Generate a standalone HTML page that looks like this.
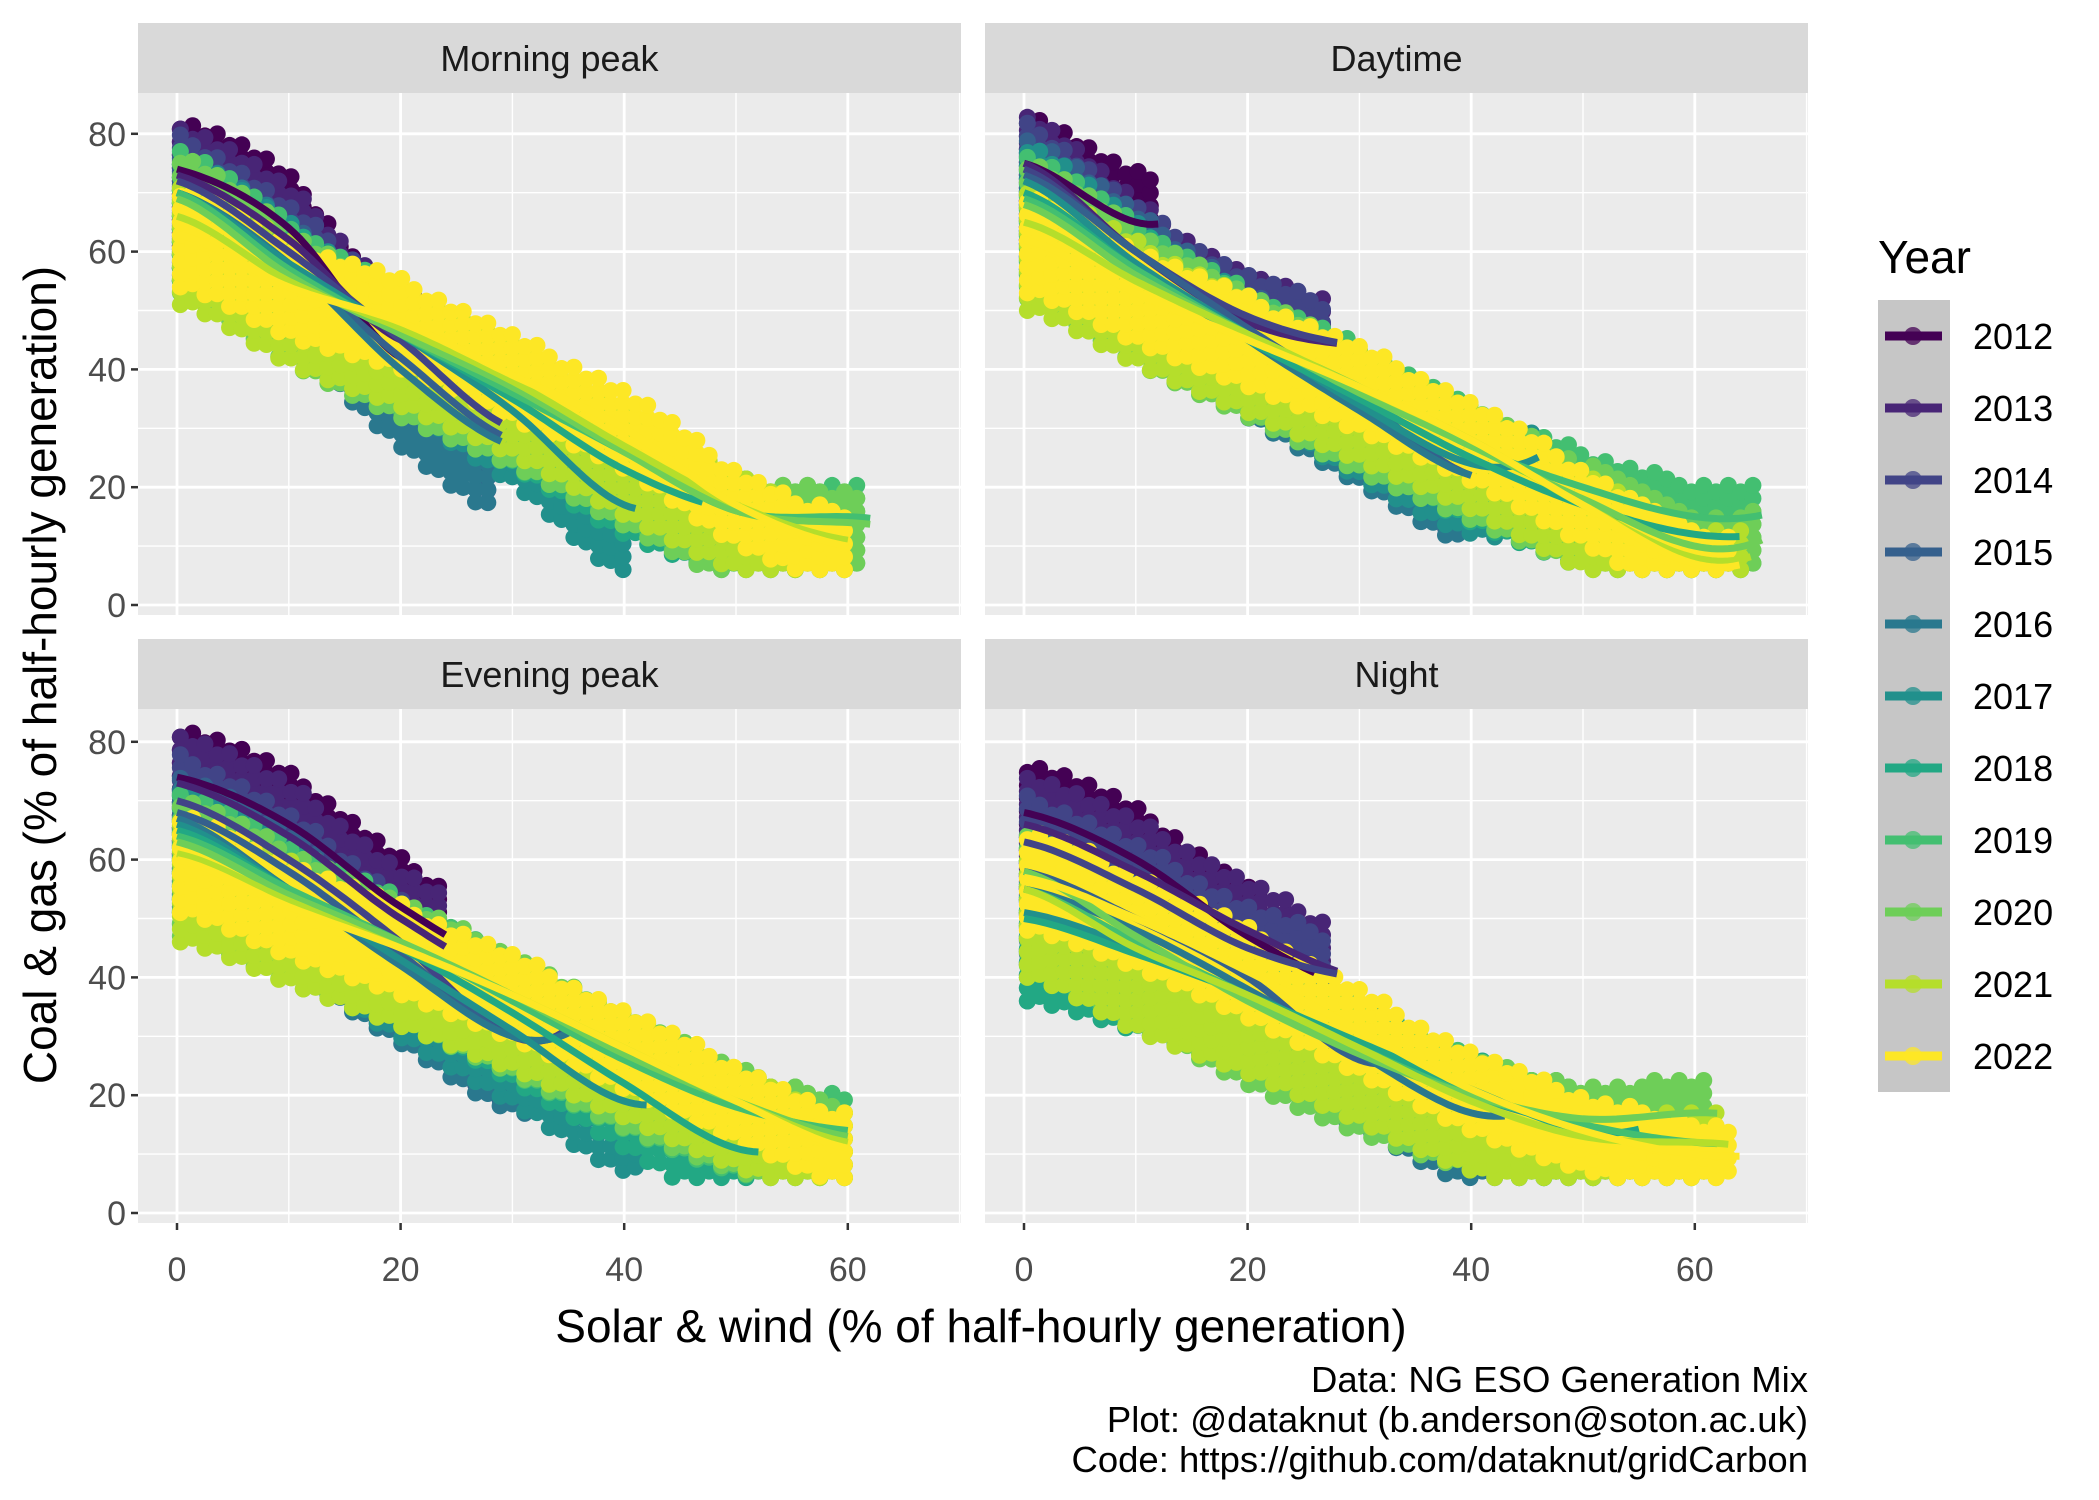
<!DOCTYPE html>
<html><head><meta charset="utf-8">
<style>
html,body{margin:0;padding:0;background:#fff;}
svg{display:block;font-family:"Liberation Sans",Arial,sans-serif;}
</style></head>
<body>
<svg id="chart" width="2099" height="1500" viewBox="0 0 2099 1500" xmlns="http://www.w3.org/2000/svg">
<g id="layer"></g>
</svg>
<script>
// ---- data ----
const years = [2012,2013,2014,2015,2016,2017,2018,2019,2020,2021,2022];
const colors = ["#440154","#482576","#414487","#35608D","#2A788E","#21908C","#22A884","#43BF71","#6ECE58","#B5DE2B","#FDE725"];
const panelNames = ["Morning peak","Daytime","Evening peak","Night"];
const xTicks = [0,20,40,60];
const yTicks = [0,20,40,60,80];
const sampleX = [0,10,20,30,40,50,60,70];
// end x of each year's series, per panel
const endMorning = [20,22,29,29,29,41,47,62,62,60,60];
const endDaytime = [12,28,28,40,40,46,64,66,66,65,64];
const endEvening = [24,24,35,35,35,42,52,60,60,60,60];
const endNight   = [26,28,28,33,43,48,55,62,62,63,64];
// smoothed line values at sampleX
const lineMorning = [
 [74,64,42],[73,62,45],[72,60,45,30],[70,58,42,28],[70,58,40,27],
 [70,58,46,33,17],[69,57,46,35,23,16],[70,57,46,36,26,16,15],[69,56,46,37,26,16,14],
 [66,55,47,38,27,17,11],[63,54,48,39,30,17,10]];
const lineDaytime = [
 [75,65],[75,60,48,44],[74,60,49,44],[73,60,47,35,22],[72,58,45,33,22],
 [72,58,46,34,24],[70,57,45,35,25,17,12],[69,57,46,37,27,20,15],[68,56,46,36,27,18,10],
 [65,55,46,37,28,17,8],[62,53,45,37,28,17,7]];
const lineEvening = [
 [74,66,52,42],[73,64,50,40],[70,60,46,30],[68,58,44,30],[67,55,42,30],
 [66,55,43,31,19],[65,55,45,34,22,11],[64,55,46,36,26,18,14],[63,54,46,37,27,19,13],
 [61,53,45,37,28,19,12],[60,52,45,37,28,19,11]];
const lineNight = [
 [68,60,47,38],[66,58,48,40],[63,55,45,40],[58,50,40,26],[55,48,38,27,17],
 [51,45,37,28,20,15],[50,44,37,29,21,14],[55,46,37,28,20,15,12],[58,47,36,27,20,16,17],
 [55,45,37,28,19,13,12],[57,50,41,31,21,14,10]];
// cloud spread above / below the line
const spreadUp = [9,9,8,7,7,7,7,8,8,7,8];
const spreadDn = [13,12,12,14,15,15,14,15,16,15,9];
const captionLines = ["Data: NG ESO Generation Mix","Plot: @dataknut (b.anderson@soton.ac.uk)","Code: https://github.com/dataknut/gridCarbon"];

// ---- layout ----
const NS="http://www.w3.org/2000/svg";
const layer=document.getElementById('layer');
function mk(tag,attrs,parent){const e=document.createElementNS(NS,tag);for(const k in attrs)e.setAttribute(k,attrs[k]);(parent||layer).appendChild(e);return e;}
const panels=[
 {name:panelNames[0],left:138,right:961,top:93,bottom:615,stripTop:23,y0:605,ends:endMorning,lines:lineMorning,xAxis:false,yAxis:true},
 {name:panelNames[1],left:985,right:1808,top:93,bottom:615,stripTop:23,y0:605,ends:endDaytime,lines:lineDaytime,xAxis:false,yAxis:false},
 {name:panelNames[2],left:138,right:961,top:709,bottom:1223,stripTop:639,y0:1213,ends:endEvening,lines:lineEvening,xAxis:true,yAxis:true},
 {name:panelNames[3],left:985,right:1808,top:709,bottom:1223,stripTop:639,y0:1213,ends:endNight,lines:lineNight,xAxis:true,yAxis:false}
];
const yUnit=5.89, xUnit=11.18;
function interp(vals,end,x){
  const n=vals.length;
  if(n===1) return vals[0];
  let i=Math.floor(x/10); if(i>=n-1){ i=n-2; }
  const t=(x-sampleX[i])/10;
  const p0=vals[Math.max(i-1,0)],p1=vals[i],p2=vals[Math.min(i+1,n-1)],p3=vals[Math.min(i+2,n-1)];
  const t2=t*t,t3=t2*t;
  return 0.5*((2*p1)+(-p0+p2)*t+(2*p0-5*p1+4*p2-p3)*t2+(-p0+3*p1-3*p2+p3)*t3);
}
panels.forEach((p,pi)=>{
  const g=mk('g',{});
  
  
  const xs=v=>p.left+39+v*xUnit;
  const ys=v=>p.y0-v*yUnit;
  const strip=mk('rect',{x:p.left,y:p.stripTop,width:p.right-p.left,height:p.top-p.stripTop,fill:'#D9D9D9'},g);
  
  
  const st=mk('text',{x:(p.left+p.right)/2,y:p.stripTop+48,'text-anchor':'middle','font-size':36,fill:'#1a1a1a'},g);
  st.textContent=p.name;
  
  
  const bg=mk('rect',{x:p.left,y:p.top,width:p.right-p.left,height:p.bottom-p.top,fill:'#EBEBEB'},g);
  
  
  [10,30,50,70].forEach(v=>{ if(xs(v)<p.right) mk('line',{x1:xs(v),x2:xs(v),y1:p.top,y2:p.bottom,stroke:'#fff','stroke-width':1.4},g);});
  [10,30,50,70].forEach(v=>{ if(ys(v)>p.top) mk('line',{x1:p.left,x2:p.right,y1:ys(v),y2:ys(v),stroke:'#fff','stroke-width':1.4},g);});
  xTicks.forEach(v=>mk('line',{x1:xs(v),x2:xs(v),y1:p.top,y2:p.bottom,stroke:'#fff','stroke-width':2.8},g));
  yTicks.forEach(v=>mk('line',{x1:p.left,x2:p.right,y1:ys(v),y2:ys(v),stroke:'#fff','stroke-width':2.8},g));
  const cg=mk('g',{},g);
  
  
  years.forEach((yr,k)=>{
    const end=p.ends[k], vals=p.lines[k];
    let col=0;
    for(let x=0;x<=end-0.5;x+=1.1,col++){
      const c=interp(vals,end,Math.min(x,end));
      const hi=Math.min(c+spreadUp[k]*(1-0.3*x/70),83), lo=Math.max(c-spreadDn[k]*(1-0.35*x/70),6);
      for(let y=lo+(col%2)*1.1;y<=hi;y+=2.2){
        mk('circle',{cx:xs(x+0.3),cy:ys(y),r:8.5,fill:colors[k]},cg);
      }
    }
  });
  years.forEach((yr,k)=>{
    const end=p.ends[k], vals=p.lines[k];
    let d='';
    for(let x=0;x<=end;x+=0.5){d+=(x===0?'M':'L')+xs(x).toFixed(1)+','+ys(interp(vals,end,x)).toFixed(1);}
    const path=mk('path',{d:d,fill:'none',stroke:colors[k],'stroke-width':7,'stroke-linecap':'butt'},g);
    
    
  });
  if(p.yAxis){
    yTicks.forEach(v=>{
      mk('line',{x1:p.left-7,x2:p.left,y1:ys(v),y2:ys(v),stroke:'#333','stroke-width':2.5},g);
      const t=mk('text',{x:p.left-12,y:ys(v)+12,'text-anchor':'end','font-size':34,fill:'#4D4D4D'},g);
      t.textContent=v;
      
      
    });
  }
  if(p.xAxis){
    xTicks.forEach(v=>{
      mk('line',{x1:xs(v),x2:xs(v),y1:p.bottom,y2:p.bottom+7,stroke:'#333','stroke-width':2.5},g);
      const t=mk('text',{x:xs(v),y:p.bottom+58,'text-anchor':'middle','font-size':34,fill:'#4D4D4D'},g);
      t.textContent=v;
      
      
    });
  }
});
const xt=mk('text',{x:981,y:1342,'text-anchor':'middle','font-size':46,fill:'#000'});
xt.textContent='Solar & wind (% of half-hourly generation)';


const yt=mk('text',{x:0,y:0,'text-anchor':'middle','font-size':46,fill:'#000',transform:'translate(56,675) rotate(-90)'});
yt.textContent='Coal & gas (% of half-hourly generation)';


const lg=mk('g',{});


const ltitle=mk('text',{x:1878,y:273,'font-size':46,fill:'#000'},lg);
ltitle.textContent='Year';


mk('rect',{x:1878,y:300,width:72,height:792,fill:'#C6C6C6'},lg);
years.forEach((yr,k)=>{
  const cy=336+k*72;
  const eg=mk('g',{},lg);
  
  
  mk('line',{x1:1885,x2:1942,y1:cy,y2:cy,stroke:colors[k],'stroke-width':9},eg);
  mk('circle',{cx:1913,cy:cy,r:9,fill:colors[k],opacity:0.75},eg);
  const t=mk('text',{x:1973,y:cy+13,'font-size':36,fill:'#000'},eg);
  t.textContent=yr;
});
captionLines.forEach((s,i)=>{
  const t=mk('text',{x:1808,y:1392+i*40,'text-anchor':'end','font-size':36.5,fill:'#000'});
  t.textContent=s;
  
  
});
</script>
</body></html>
